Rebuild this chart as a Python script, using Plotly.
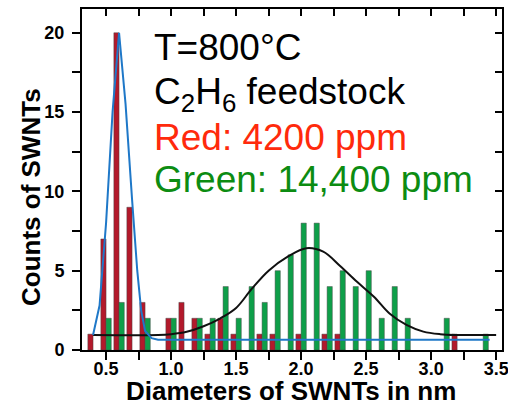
import plotly.graph_objects as go

# Histogram bins (nm) and counts
bins = [0.4, 0.5, 0.6, 0.7, 0.8, 0.9, 1.0, 1.1, 1.2, 1.3, 1.4, 1.5, 1.6, 1.7, 1.8, 1.9,
        2.0, 2.1, 2.2, 2.3, 2.4, 2.5, 2.6, 2.7, 2.8, 2.9, 3.0, 3.1, 3.2, 3.3, 3.4]
red_counts = [1, 7, 20, 9, 3, 0, 2, 3, 2, 1, 2, 1, 0, 1, 1, 0,
              1, 0, 1, 1, 0, 0, 0, 0, 0, 0, 0, 0, 1, 0, 0]
green_counts = [0, 2, 3, 0, 2, 0, 2, 0, 2, 2, 4, 2, 4, 3, 5, 6,
                8, 8, 4, 5, 4, 5, 2, 4, 2, 0, 0, 2, 0, 0, 1]

# Fit curves
blue_x = [0.40, 0.45, 0.50, 0.55, 0.60, 0.65, 0.70, 0.74, 0.77, 0.80, 0.85, 0.90, 3.45]
blue_y = [0.95, 2.8, 8.0, 15.0, 20.0, 15.5, 9.5, 5.0, 2.5, 1.2, 0.75, 0.65, 0.65]
black_x = [0.40, 0.90, 1.00, 1.12, 1.25, 1.38, 1.50, 1.62, 1.75, 1.90, 2.04, 2.17,
           2.30, 2.43, 2.56, 2.68, 2.81, 2.94, 3.07, 3.20, 3.50]
black_y = [0.95, 0.95, 1.0, 1.15, 1.5, 2.0, 2.65, 3.85, 5.0, 5.9, 6.42, 6.2,
           5.3, 4.3, 3.36, 2.3, 1.58, 1.16, 1.0, 0.95, 0.95]

x_range = [0.315, 3.545]
y_range = [0, 21.5]

FONT = "Liberation Sans, Arial, Helvetica, sans-serif"
L, R, T, B = 82, 6, 9, 54
PW, PH = 508 - L - R, 404 - T - B

def nz(v):
    return [c if c else None for c in v]

fig = go.Figure()
fig.add_trace(go.Bar(x=bins, y=nz(red_counts), marker=dict(color="#b3192b",
                     line=dict(color="rgba(70,70,70,0.8)", width=0.6)), showlegend=False))
fig.add_trace(go.Bar(x=bins, y=nz(green_counts), marker=dict(color="#0e9f49",
                     line=dict(color="rgba(70,70,70,0.8)", width=0.6)), showlegend=False))
fig.add_trace(go.Scatter(x=black_x, y=black_y, mode="lines", line=dict(color="#111111", width=2, shape="spline"),
                         showlegend=False))
fig.add_trace(go.Scatter(x=blue_x, y=blue_y, mode="lines", line=dict(color="#1f78c8", width=2),
                         showlegend=False))
# carrier for the mirrored (inward-tick) top/right axes
fig.add_trace(go.Scatter(x=[None], y=[None], xaxis="x2", yaxis="y2", showlegend=False, hoverinfo="skip"))

tickfont = dict(family=FONT, size=18, color="black", weight="bold")
fig.update_layout(
    width=508, height=404,
    margin=dict(l=L, r=R, t=T, b=B, autoexpand=False),
    paper_bgcolor="white", plot_bgcolor="white",
    barmode="group", bargap=0.2, bargroupgap=0,
    xaxis=dict(range=x_range, showgrid=False, zeroline=False, showline=True, linecolor="black",
               linewidth=2, mirror=True, ticks="outside", ticklen=8, tickwidth=1.5, tickcolor="black",
               tick0=0.5, dtick=0.5, tickformat=".1f", tickfont=tickfont, automargin=False,
               ticklabelstandoff=-7, ticklabeloverflow="allow",
               minor=dict(dtick=0.25, ticks="outside", ticklen=8, tickwidth=1.5, tickcolor="black", showgrid=False)),
    yaxis=dict(range=y_range, showgrid=False, zeroline=False, showline=True, linecolor="black",
               linewidth=2, mirror=True, ticks="outside", ticklen=8, tickwidth=1.5, tickcolor="black",
               tick0=0, dtick=5, tickfont=tickfont, automargin=False, ticklabelstandoff=4,
               minor=dict(dtick=2.5, ticks="outside", ticklen=8, tickwidth=1.5, tickcolor="black", showgrid=False)),
    xaxis2=dict(range=x_range, overlaying="x", side="top", anchor="y", showgrid=False, zeroline=False,
                showline=False, ticks="inside", ticklen=7, tickwidth=1.5, tickcolor="black",
                tick0=0.5, dtick=0.5, showticklabels=False, automargin=False,
                minor=dict(dtick=0.25, ticks="inside", ticklen=7, tickwidth=1.5, tickcolor="black", showgrid=False)),
    yaxis2=dict(range=y_range, overlaying="y", side="right", anchor="x", showgrid=False, zeroline=False,
                showline=False, ticks="inside", ticklen=7, tickwidth=1.5, tickcolor="black",
                tick0=0, dtick=5, showticklabels=False, automargin=False,
                minor=dict(dtick=2.5, ticks="inside", ticklen=7, tickwidth=1.5, tickcolor="black", showgrid=False)),
)

def px_x(p):
    return (p - L) / PW

def px_y(p):
    return (404 - B - p) / PH

# axis titles
fig.add_annotation(text="<b>Diameters of SWNTs in nm</b>", xref="paper", yref="paper",
                   x=px_x(291), y=px_y(391), xanchor="center", yanchor="middle", showarrow=False,
                   font=dict(family=FONT, size=26, color="black"))
fig.add_annotation(text="<b>Counts of SWNTs</b>", xref="paper", yref="paper", textangle=-90,
                   x=px_x(31), y=px_y(197), xanchor="center", yanchor="middle", showarrow=False,
                   font=dict(family=FONT, size=26, color="black"))

labels = [("T=800°C", "black", 47),
          ("C<sub>2</sub>H<sub>6</sub> feedstock", "black", 94),
          ("Red: 4200 ppm", "#ff2a0c", 137),
          ("Green: 14,400 ppm", "#0c8c12", 179)]
for text, color, ypx in labels:
    fig.add_annotation(text=text, xref="paper", yref="paper", x=px_x(152), y=px_y(ypx),
                       xanchor="left", yanchor="middle", showarrow=False,
                       font=dict(family=FONT, size=37, color=color))

fig.write_html("out.html")
